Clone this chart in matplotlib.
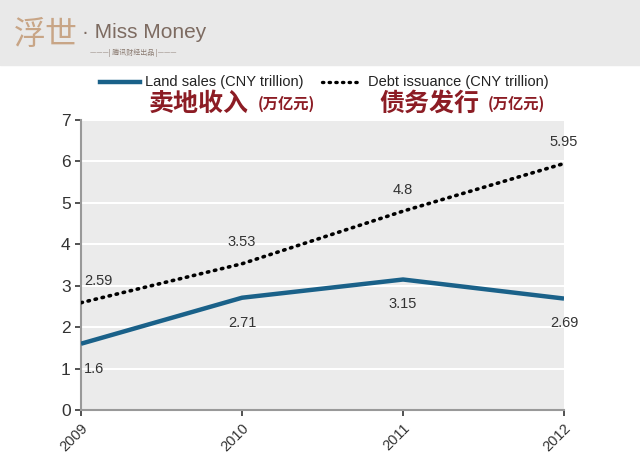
import matplotlib.pyplot as plt
from matplotlib.patches import Rectangle
from matplotlib.lines import Line2D
from matplotlib import font_manager

names = {f.name for f in font_manager.fontManager.ttflist}
narrow = 'Liberation Sans Narrow' if 'Liberation Sans Narrow' in names else 'Liberation Sans'
plt.rcParams['font.family'] = ['Liberation Sans', 'Noto Sans CJK SC', 'DejaVu Sans']

# data
years = ['2009', '2010', '2011', '2012']
land_sales = [1.6, 2.71, 3.15, 2.69]
debt_issuance = [2.59, 3.53, 4.8, 5.95]
land_label = 'Land sales (CNY trillion)'
debt_label = 'Debt issuance (CNY trillion)'

blue = '#1a6189'
red = '#8c1c24'

fig = plt.figure(figsize=(6.4, 4.71), dpi=100)
fig.patches.append(Rectangle((0, 0.862), 1, 0.138, transform=fig.transFigure,
                             color='#e9e9e9', zorder=0))

# logo
fig.text(0.022, 0.925, '浮世', fontsize=23, color='#c8a586', family=['Noto Sans CJK SC'],
         fontweight='light', va='center')
fig.text(0.128, 0.93, '· Miss Money', fontsize=15, color='#7d6b61', va='center',
         family=[narrow])
fig.text(0.14, 0.887, '———| 腾讯财经出品 |———', fontsize=5, color='#8a7a70',
         family=['Noto Sans CJK SC'], va='center')

ax = fig.add_axes([0.1266, 0.1295, 0.7547, 0.6157])
ax.set_facecolor('#ebebeb')
x = range(len(years))
ax.plot(x, land_sales, color=blue, lw=3.2, solid_capstyle='butt', zorder=3)
ax.plot(x, debt_issuance, color='black', lw=2.6, linestyle=(0, (0.4, 1.6)),
        dash_capstyle='round', zorder=3)

ax.set_xlim(0, len(years) - 1)
ax.set_ylim(0, 7)
ax.set_yticks(range(0, 8))
ax.set_xticks(list(x))
ax.set_xticklabels(years, rotation=45, ha='right', va='top', fontsize=10.5,
                   rotation_mode='anchor')
ax.tick_params(axis='y', labelsize=12.5, colors='#333333', length=4, width=1.2,
               direction='out')
ax.tick_params(axis='x', colors='#333333', length=4, width=1.2, direction='out', pad=4)
for t in ax.get_yticklabels():
    t.set_family([narrow])
ax.grid(axis='y', color='white', lw=1.5)
ax.set_axisbelow(True)
for s in ['top', 'right']:
    ax.spines[s].set_visible(False)
for s in ['left', 'bottom']:
    ax.spines[s].set_color('#999999')
    ax.spines[s].set_linewidth(1.5)

# data labels
for i in x:
    ax.text(i + (0.02 if i == 0 else 0), debt_issuance[i] + 0.52, f'{debt_issuance[i]:g}',
            fontsize=10.5, color='#333333', ha='left' if i == 0 else 'center',
            va='center', family=[narrow])
    ax.text(i + (0.02 if i == 0 else 0), land_sales[i] - 0.6, f'{land_sales[i]:g}',
            fontsize=10.5, color='#333333', ha='left' if i == 0 else 'center',
            va='center', family=[narrow])

# legend
fig.add_artist(Line2D([0.157, 0.219], [0.826, 0.826], color=blue, lw=3.2,
                      transform=fig.transFigure))
fig.text(0.226, 0.826, land_label, fontsize=10.5, color='#222222', va='center',
         family=[narrow])
fig.add_artist(Line2D([0.503, 0.563], [0.826, 0.826], color='black', lw=2.4,
                      linestyle=(0, (0.4, 1.6)), dash_capstyle='round',
                      transform=fig.transFigure))
fig.text(0.575, 0.826, debt_label, fontsize=10.5, color='#222222', va='center',
         family=[narrow])

# chinese annotations
fig.text(0.233, 0.78, '卖地收入', fontsize=18, color=red, fontweight='bold',
         family=['Noto Sans CJK SC'], va='center')
fig.text(0.402, 0.78, '(万亿元)', fontsize=11, color=red, fontweight='bold',
         family=['Noto Sans CJK SC'], va='center')
fig.text(0.593, 0.78, '债务发行', fontsize=18, color=red, fontweight='bold',
         family=['Noto Sans CJK SC'], va='center')
fig.text(0.762, 0.78, '(万亿元)', fontsize=11, color=red, fontweight='bold',
         family=['Noto Sans CJK SC'], va='center')

fig.savefig('out.png', dpi=100)
